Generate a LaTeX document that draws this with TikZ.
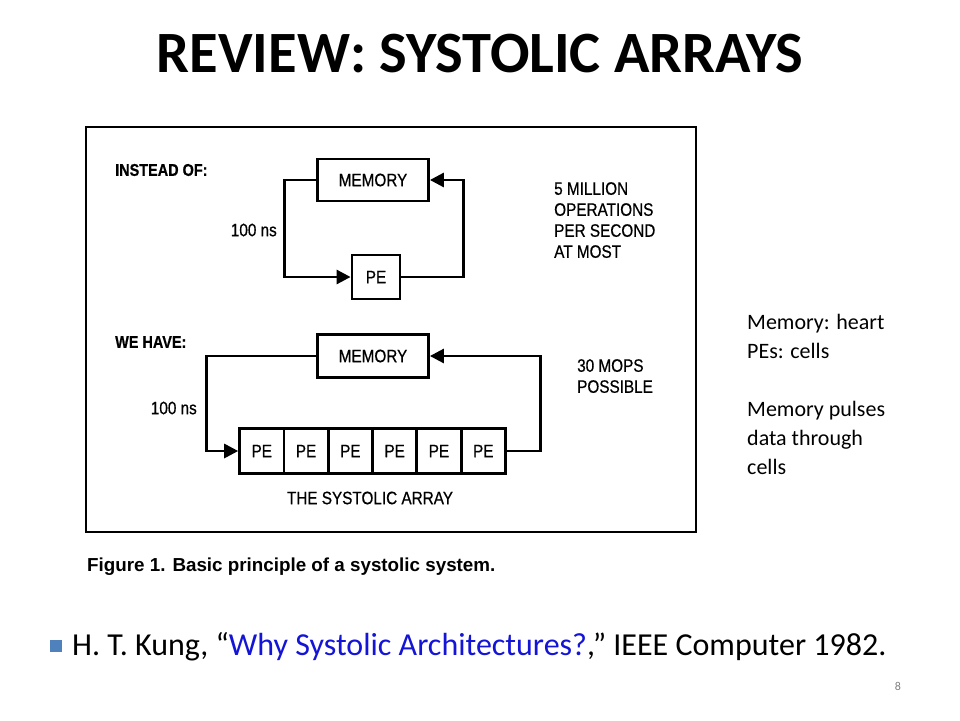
\documentclass[tikz,border=0pt]{standalone}
\usepackage{fontspec}
\setmainfont{Carlito}
\newfontfamily\figfont[FakeStretch=0.85,FakeBold=0.6]{Liberation Sans}
\newfontfamily\capfont{Liberation Sans}
\usetikzlibrary{arrows.meta}
\definecolor{bulletblue}{RGB}{79,129,189}
\definecolor{linkblue}{RGB}{20,20,215}
\tikzset{
  box/.style={draw, line width=2.8pt, inner sep=0pt, font=\figfont\fontsize{18}{20}\selectfont},
  flow/.style={line width=2.8pt, -{Triangle[length=14pt,width=14pt]}},
  figtext/.style={inner sep=0pt, font=\figfont\fontsize{18}{21}\selectfont, align=left}
}
\begin{document}
\begin{tikzpicture}[x=1pt,y=-1pt]
    \useasboundingbox (0,0) rectangle (960,720);

    % Title
    \node[anchor=base, font=\bfseries\fontsize{58.5}{60}\selectfont] (title) at (480,72) {REVIEW: SYSTOLIC ARRAYS};

    % Draw the figure frame
    \draw[line width=2pt] (86,127) rectangle (696,532);

    % Upper half: one memory, one PE
    \node[figtext, anchor=west, font=\figfont\bfseries\fontsize{17}{21}\selectfont] (instead) at (115,170) {INSTEAD OF:};
    \node[box, minimum width=111pt, minimum height=42pt] (mem1) at (373,180) {MEMORY};
    \node[box, minimum width=48pt, minimum height=44pt] (pe) at (376,277) {PE};
    \draw[flow] (mem1.west) -- ++(-32,0) |- (pe.west);
    \draw[flow] (pe.east) -- ++(62,0) |- (mem1.east);
    \node[figtext, anchor=east] (ns1) at (277,230) {100 ns};
    \node[figtext, anchor=north west] (mops1) at (554,182) {5 MILLION\\OPERATIONS\\PER SECOND\\AT MOST};

    % Lower half: memory and the systolic array
    \node[figtext, anchor=west, font=\figfont\bfseries\fontsize{17}{21}\selectfont] (wehave) at (115,342) {WE HAVE:};
    \node[box, minimum width=111pt, minimum height=43pt] (mem2) at (373,356) {MEMORY};
    \foreach \i in {1,...,6}
        \node[box, minimum width=44.3pt, minimum height=45pt] (pe\i) at (239.6+44.3*\i-22.15,451) {PE};
    \draw[flow] (mem2.west) -- ++(-110,0) |- (pe1.west);
    \draw[flow] (pe6.east) -- ++(34,0) |- (mem2.east);
    \node[figtext, anchor=east] (ns2) at (197,408) {100 ns};
    \node[figtext, anchor=north west] (mops2) at (577,359) {30 MOPS\\POSSIBLE};
    \node[figtext, anchor=center] (array) at (370,498) {THE SYSTOLIC ARRAY};

    % Caption
    \node[inner sep=0pt, anchor=west, font=\capfont\bfseries\fontsize{18.8}{20}\selectfont] (caption) at (87,567) {Figure 1. Basic principle of a systolic system.};

    % Side notes
    \node[inner sep=0pt, anchor=north west, align=left, font=\fontsize{22}{29}\selectfont] (notes) at (747,314) {Memory: heart\\PEs: cells\\[29pt]Memory pulses\\data through\\cells};

    % Reference line
    \fill[bulletblue] (50,640) rectangle (62,652);
    \node[inner sep=0pt, anchor=base west, font=\fontsize{32}{36}\selectfont] (ref) at (72,655) {H. T. Kung, ``\textcolor{linkblue}{Why Systolic Architectures?},'' IEEE Computer 1982.};

    % Page number
    \node[inner sep=0pt, text=gray, font=\fontsize{12}{14}\selectfont] (page) at (898,686) {8};
\end{tikzpicture}
\end{document}
